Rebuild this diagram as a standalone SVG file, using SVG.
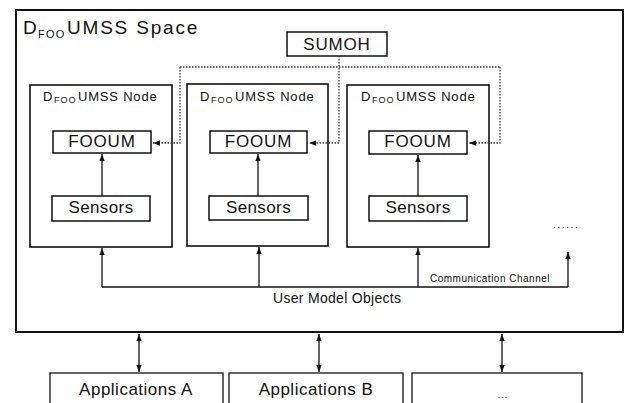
<svg xmlns="http://www.w3.org/2000/svg" width="630" height="403" viewBox="0 0 630 403">
<defs>
<style>
text{font-family:"Liberation Sans",Arial,Helvetica,sans-serif;fill:#111}
.box{fill:#fff;stroke:#111;stroke-width:1.5}
.outer{fill:#fff;stroke:#111;stroke-width:2}
.node{fill:#fff;stroke:#111;stroke-width:1.6}
.big{font-size:17px;letter-spacing:0.8px;text-anchor:middle}
.nl{font-size:13px;letter-spacing:0.8px}
.nsub{font-size:9px;letter-spacing:1px}
.app{font-size:17px;letter-spacing:0.5px;text-anchor:middle}
.solid{fill:none;stroke:#111;stroke-width:1.3}
.dot{fill:none;stroke:#333;stroke-width:1.3;stroke-dasharray:1.5 1.5}
</style>
<marker id="ah" viewBox="0 0 8 6" refX="8" refY="3" markerWidth="7" markerHeight="6" markerUnits="userSpaceOnUse" orient="auto-start-reverse">
<path d="M0,0 L8,3 L0,6 Z" fill="#111"/>
</marker>
</defs>
<rect width="630" height="403" fill="#fff"/>

<g id="space">
<rect class="outer" x="16" y="10" width="607" height="322"/>
<text x="23" y="34" font-size="19" letter-spacing="1.8">D<tspan x="38" dy="4" font-size="11" letter-spacing="1.2">FOO</tspan><tspan x="67" dy="-4">UMSS Space</tspan></text>
</g>

<g id="sumoh">
<rect class="box" x="287" y="32" width="100" height="24"/>
<text class="big" x="337" y="50">SUMOH</text>
</g>

<g id="node1">
<rect class="node" x="30" y="85" width="142" height="162"/>
<text class="nl" x="43" y="101">D<tspan class="nsub" x="54" dy="2">FOO</tspan><tspan x="78" dy="-2">UMSS Node</tspan></text>
</g>
<g id="fooum1">
<rect class="box" x="53" y="131" width="98" height="22"/>
<text class="big" x="102" y="147">FOOUM</text>
</g>
<g id="sensors1">
<rect class="box" x="52" y="196" width="98" height="25"/>
<text class="big" x="101" y="213" style="letter-spacing:0.4px">Sensors</text>
</g>

<g id="node2">
<rect class="node" x="187" y="84" width="141" height="162"/>
<text class="nl" x="200" y="101">D<tspan class="nsub" x="211" dy="2">FOO</tspan><tspan x="235" dy="-2">UMSS Node</tspan></text>
</g>
<g id="fooum2">
<rect class="box" x="210" y="131" width="97" height="22"/>
<text class="big" x="258.5" y="147">FOOUM</text>
</g>
<g id="sensors2">
<rect class="box" x="209" y="196" width="99" height="24"/>
<text class="big" x="258.5" y="213" style="letter-spacing:0.4px">Sensors</text>
</g>

<g id="node3">
<rect class="node" x="347" y="85" width="142" height="162"/>
<text class="nl" x="361" y="101">D<tspan class="nsub" x="372" dy="2">FOO</tspan><tspan x="396" dy="-2">UMSS Node</tspan></text>
</g>
<g id="fooum3">
<rect class="box" x="369" y="131" width="98" height="23"/>
<text class="big" x="418" y="147">FOOUM</text>
</g>
<g id="sensors3">
<rect class="box" x="369" y="196" width="98" height="25"/>
<text class="big" x="418" y="213" style="letter-spacing:0.4px">Sensors</text>
</g>

<g id="more-nodes">
<text x="553" y="228" font-size="10" letter-spacing="1.6">......</text>
</g>

<g id="appA">
<rect class="box" x="50" y="373" width="173" height="40" style="stroke-width:1.3"/>
<text class="app" x="136" y="395">Applications A</text>
</g>
<g id="appB">
<rect class="box" x="229" y="373" width="174" height="40" style="stroke-width:1.3"/>
<text class="app" x="316" y="395">Applications B</text>
</g>
<g id="appMore">
<rect class="box" x="412" y="373" width="170" height="40" style="stroke-width:1.3"/>
<text x="503" y="398" font-size="9" text-anchor="middle" letter-spacing="1">...</text>
</g>

<g id="connectors">
<path class="dot" d="M180,67 H500"/>
<path class="dot" d="M339,56 V143 H309" marker-end="url(#ah)"/>
<path class="dot" d="M180,67 V143 H153" marker-end="url(#ah)"/>
<path class="dot" d="M500,67 V143 H469" marker-end="url(#ah)"/>
<path class="solid" d="M102,196 V154" marker-end="url(#ah)"/>
<path class="solid" d="M258,196 V154" marker-end="url(#ah)"/>
<path class="solid" d="M418,196 V155" marker-end="url(#ah)"/>
<path class="solid" d="M102,287 H568"/>
<path class="solid" d="M102,287 V248" marker-end="url(#ah)"/>
<path class="solid" d="M259,287 V247" marker-end="url(#ah)"/>
<path class="solid" d="M418,287 V248" marker-end="url(#ah)"/>
<path class="solid" d="M568,287 V252" marker-end="url(#ah)"/>
<text x="430" y="282" font-size="10" letter-spacing="0.5">Communication Channel</text>
<text x="273" y="303" font-size="14" letter-spacing="0.3">User Model Objects</text>
<path class="solid" d="M139,334 V372" marker-start="url(#ah)" marker-end="url(#ah)"/>
<path class="solid" d="M319,334 V372" marker-start="url(#ah)" marker-end="url(#ah)"/>
<path class="solid" d="M502,334 V372" marker-start="url(#ah)" marker-end="url(#ah)"/>
</g>
</svg>
